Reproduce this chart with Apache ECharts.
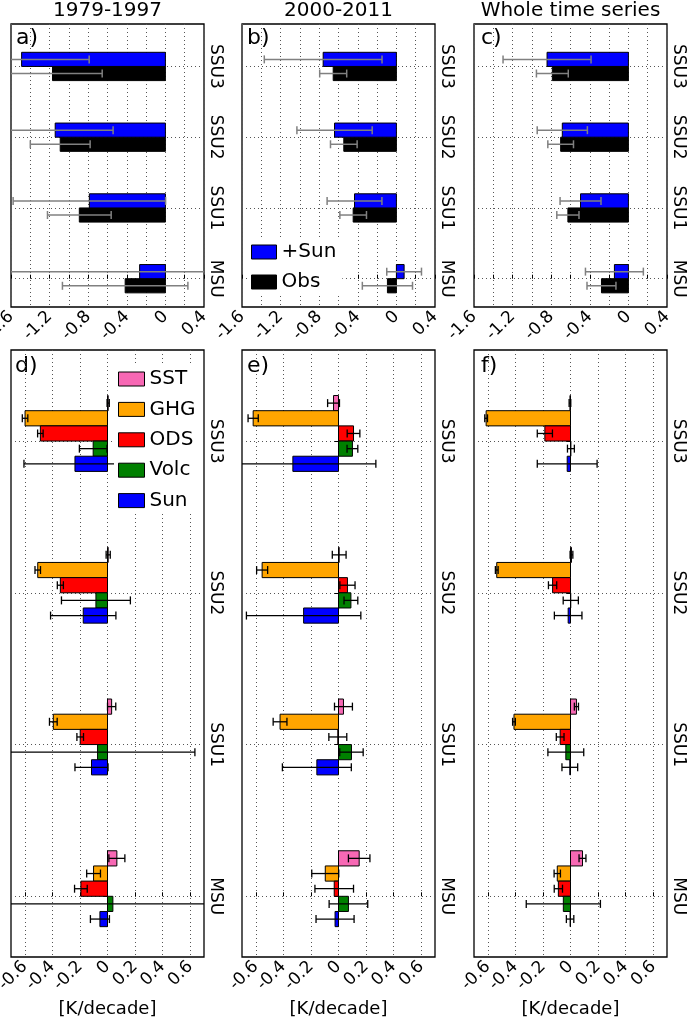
<!DOCTYPE html>
<html>
<head>
<meta charset="utf-8">
<script src="https://cdn.jsdelivr.net/npm/echarts@6/dist/echarts.min.js"></script>
<style>html,body{margin:0;padding:0;background:#fff}#c{width:688px;height:1020px}</style>
</head>
<body>
<div id="c"></div>
<script>
// ---------------- data ----------------
const cats = ['MSU', 'SSU1', 'SSU2', 'SSU3'];
const periods = ['1979-1997', '2000-2011', 'Whole time series'];
const panelLetters = ['a)', 'b)', 'c)', 'd)', 'e)', 'f)'];
const topXTicks = [-1.6, -1.4, -1.2, -1.0, -0.8, -0.6, -0.4, -0.2, 0, 0.2, 0.4];
const topXLabels = [-1.6, -1.2, -0.8, -0.4, 0, 0.4];
const botXTicks = [-0.6, -0.4, -0.2, 0, 0.2, 0.4, 0.6];
const catTicks = [0, 1, 2, 3];

// top row: +Sun and Obs trends (order MSU, SSU1, SSU2, SSU3)
const a_sun = [-0.267, -0.788, -1.142, -1.49];
const a_sun_err = [1.5, 0.79, 0.6, 0.7];
const a_obs = [-0.417, -0.892, -1.09, -1.17];
const a_obs_err = [0.65, 0.33, 0.31, 0.515];
const b_sun = [0.08, -0.434, -0.641, -0.759];
const b_sun_err = [0.18, 0.284, 0.39, 0.61];
const b_obs = [-0.093, -0.448, -0.545, -0.655];
const b_obs_err = [0.26, 0.138, 0.138, 0.14];
const c_sun = [-0.145, -0.496, -0.685, -0.843];
const c_sun_err = [0.3, 0.212, 0.26, 0.456];
const c_obs = [-0.279, -0.627, -0.702, -0.788];
const c_obs_err = [0.15, 0.115, 0.133, 0.165];

// bottom row: contributions
const d_SST = [0.068, 0.03, 0.005, 0.005];
const d_SST_err = [0.058, 0.03, 0.015, 0.008];
const d_GHG = [-0.101, -0.393, -0.506, -0.598];
const d_GHG_err = [0.05, 0.028, 0.02, 0.02];
const d_ODS = [-0.193, -0.198, -0.342, -0.487];
const d_ODS_err = [0.046, 0.024, 0.022, 0.02];
const d_Volc = [0.039, -0.072, -0.084, -0.104];
const d_Volc_err = [1.0, 0.706, 0.25, 0.1];
const d_Sun = [-0.055, -0.116, -0.176, -0.236];
const d_Sun_err = [0.069, 0.12, 0.237, 0.37];

const e_SST = [0.15, 0.036, 0.005, -0.036];
const e_SST_err = [0.078, 0.065, 0.05, 0.043];
const e_GHG = [-0.096, -0.424, -0.554, -0.619];
const e_GHG_err = [0.098, 0.05, 0.04, 0.037];
const e_ODS = [-0.031, -0.005, 0.065, 0.109];
const e_ODS_err = [0.14, 0.065, 0.055, 0.046];
const e_Volc = [0.072, 0.094, 0.09, 0.101];
const e_Volc_err = [0.14, 0.085, 0.05, 0.039];
const e_Sun = [-0.025, -0.157, -0.253, -0.331];
const e_Sun_err = [0.138, 0.25, 0.415, 0.602];

const f_SST = [0.087, 0.043, 0.007, -0.004];
const f_SST_err = [0.025, 0.015, 0.01, 0.006];
const f_GHG = [-0.096, -0.41, -0.535, -0.612];
const f_GHG_err = [0.023, 0.01, 0.01, 0.01];
const f_ODS = [-0.088, -0.075, -0.13, -0.186];
const f_ODS_err = [0.03, 0.028, 0.03, 0.055];
const f_Volc = [-0.052, -0.034, 0.002, 0.003];
const f_Volc_err = [0.269, 0.13, 0.055, 0.025];
const f_Sun = [-0.003, -0.005, -0.017, -0.024];
const f_Sun_err = [0.027, 0.057, 0.1, 0.217];

// ---------------- build ----------------
const FONT = 'DejaVu Sans';
const topLefts = [11, 242, 474];
const panelW = 193;
const grids = [];
topLefts.forEach(l => grids.push({left: l, top: 24, width: panelW, height: 283}));
topLefts.forEach(l => grids.push({left: l, top: 350, width: panelW, height: 607}));
grids.forEach(g => {
  g.show = true; g.borderColor = '#000'; g.borderWidth = 1.3; g.backgroundColor = 'transparent';
  g.containLabel = false; g.outerBoundsMode = 'none';
});

const gridLine = {show: true, lineStyle: {color: '#555', width: 1, type: [1, 3]}};
const fmt = v => { const n = Number(Number(v).toFixed(2)); return n === 0 ? '0' : String(n); };

const xAxes = [], yAxes = [];
for (let i = 0; i < 6; i++) {
  const top = i < 3;
  xAxes.push({
    type: 'value', gridIndex: i,
    min: top ? -1.6 : -0.7, max: top ? 0.4 : 0.7,
    axisLine: {show: false},
    axisTick: {show: true, inside: true, length: 4, customValues: top ? topXTicks : botXTicks, lineStyle: {color: '#000'}},
    axisLabel: {customValues: top ? topXLabels : botXTicks, rotate: 45, margin: 7, fontFamily: FONT, fontSize: 17, color: '#000', formatter: fmt, hideOverlap: false},
    splitLine: gridLine,
    name: top ? '' : '[K/decade]', nameLocation: 'middle', nameGap: 42,
    nameTextStyle: {fontFamily: FONT, fontSize: 18, color: '#000'}
  });
  yAxes.push({
    type: 'value', gridIndex: i, position: 'right', min: -0.4, max: 3.6,
    axisLine: {show: false},
    axisTick: {show: true, inside: true, length: 4, customValues: catTicks, lineStyle: {color: '#000'}},
    axisLabel: {customValues: catTicks, rotate: -90, margin: 3, fontFamily: FONT, fontSize: 17, color: '#000', formatter: v => cats[Math.round(v)]},
    splitLine: gridLine
  });
}

function makeRender(lo, hi, errColor, errWidth) {
  return function (params, api) {
    const cat = api.value(0), val = api.value(1), err = api.value(2);
    const cs = params.coordSys;
    const p0 = api.coord([0, cat + lo]);
    const p1 = api.coord([val, cat + hi]);
    const ym = api.coord([0, cat + (lo + hi) / 2])[1];
    const xa = api.coord([val - err, 0])[0];
    const xb = api.coord([val + err, 0])[0];
    const L = cs.x, R = cs.x + cs.width;
    const children = [{
      type: 'rect',
      shape: {x: Math.min(p0[0], p1[0]), y: Math.min(p0[1], p1[1]), width: Math.abs(p1[0] - p0[0]), height: Math.abs(p1[1] - p0[1])},
      style: {fill: api.visual('color'), stroke: '#000', lineWidth: 1}
    }, {
      type: 'line',
      shape: {x1: Math.max(xa, L), y1: ym, x2: Math.min(xb, R), y2: ym},
      style: {stroke: errColor, lineWidth: errWidth}
    }];
    if (xa >= L) children.push({type: 'line', shape: {x1: xa, y1: ym - 4, x2: xa, y2: ym + 4}, style: {stroke: errColor, lineWidth: errWidth}});
    if (xb <= R) children.push({type: 'line', shape: {x1: xb, y1: ym - 4, x2: xb, y2: ym + 4}, style: {stroke: errColor, lineWidth: errWidth}});
    return {type: 'group', children};
  };
}

function rows(vals, errs) { return vals.map((v, k) => [k, v, errs[k]]); }

const series = [];
function addSeries(name, gi, vals, errs, color, lo, hi, errColor, errWidth) {
  series.push({
    type: 'custom', name, xAxisIndex: gi, yAxisIndex: gi,
    itemStyle: {color, borderColor: '#000', borderWidth: 1},
    renderItem: makeRender(lo, hi, errColor, errWidth),
    encode: {x: 1, y: 0},
    data: rows(vals, errs), silent: true
  });
}
const topSets = [[a_sun, a_sun_err, a_obs, a_obs_err], [b_sun, b_sun_err, b_obs, b_obs_err], [c_sun, c_sun_err, c_obs, c_obs_err]];
topSets.forEach((s, g) => {
  addSeries('Obs', g, s[2], s[3], '#000000', -0.2, 0, '#808080', 1.5);
  addSeries('+Sun', g, s[0], s[1], '#0000ff', 0, 0.2, '#808080', 1.5);
});
const forc = ['SST', 'GHG', 'ODS', 'Volc', 'Sun'];
const forcColors = ['#f768b4', '#ffa500', '#ff0000', '#008000', '#0000ff'];
const forcOff = [[0.2, 0.3], [0.1, 0.2], [0, 0.1], [-0.1, 0], [-0.2, -0.1]];
const botSets = [
  [[d_SST, d_SST_err], [d_GHG, d_GHG_err], [d_ODS, d_ODS_err], [d_Volc, d_Volc_err], [d_Sun, d_Sun_err]],
  [[e_SST, e_SST_err], [e_GHG, e_GHG_err], [e_ODS, e_ODS_err], [e_Volc, e_Volc_err], [e_Sun, e_Sun_err]],
  [[f_SST, f_SST_err], [f_GHG, f_GHG_err], [f_ODS, f_ODS_err], [f_Volc, f_Volc_err], [f_Sun, f_Sun_err]]
];
botSets.forEach((set, p) => {
  set.forEach((s, k) => addSeries(forc[k], 3 + p, s[0], s[1], forcColors[k], forcOff[k][0], forcOff[k][1], '#000', 1.3));
});

const graphics = [];
periods.forEach((t, i) => graphics.push({type: 'text', x: topLefts[i] + panelW / 2, y: 11, style: {text: t, align: 'center', verticalAlign: 'middle', font: '20px "DejaVu Sans"', fill: '#000'}}));
const letterPos = [[16, 27], [247, 27], [481, 27], [15, 355], [247, 355], [481, 355]];
panelLetters.forEach((t, i) => graphics.push({type: 'text', x: letterPos[i][0], y: letterPos[i][1], style: {text: t, align: 'left', verticalAlign: 'top', font: '22px "DejaVu Sans"', fill: '#000'}}));

const option = {
  backgroundColor: '#fff',
  animation: false,
  grid: grids, xAxis: xAxes, yAxis: yAxes, series,
  legend: [
    {data: ['+Sun', 'Obs'], orient: 'vertical', left: 247, top: 239, icon: 'rect', itemWidth: 25, itemHeight: 14, itemGap: 10,
     backgroundColor: '#fff', padding: [3, 6, 3, 4], selectedMode: false,
     itemStyle: {borderColor: '#000', borderWidth: 1},
     textStyle: {fontFamily: FONT, fontSize: 20, color: '#000', lineHeight: 20}},
    {data: forc, orient: 'vertical', left: 114, top: 366, icon: 'rect', itemWidth: 26, itemHeight: 14, itemGap: 10.4,
     backgroundColor: '#fff', padding: [3, 6, 3, 4], selectedMode: false,
     itemStyle: {borderColor: '#000', borderWidth: 1},
     textStyle: {fontFamily: FONT, fontSize: 20, color: '#000', lineHeight: 20}}
  ],
  graphic: graphics
};
const chart = echarts.init(document.getElementById('c'), null, {renderer: 'canvas'});
chart.setOption(option);
</script>
</body>
</html>
